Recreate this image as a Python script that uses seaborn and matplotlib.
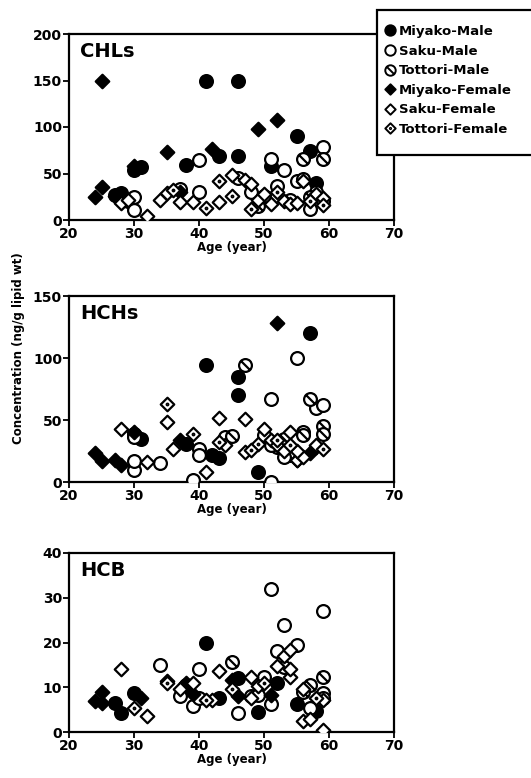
import numpy as np
import pandas as pd
import matplotlib
matplotlib.use("Agg")
import matplotlib.pyplot as plt
from matplotlib.path import Path
from matplotlib.lines import Line2D
from matplotlib.patches import Rectangle
import seaborn as sns

sns.set_theme(style="white")
plt.rcParams['font.family'] = ['DejaVu Sans']
plt.rcParams['font.weight'] = 'bold'
plt.rcParams['text.color'] = 'black'
plt.rcParams['axes.labelcolor'] = 'black'
plt.rcParams['xtick.color'] = 'black'
plt.rcParams['ytick.color'] = 'black'

groups = ["Miyako-Male", "Saku-Male", "Tottori-Male", "Miyako-Female", "Saku-Female", "Tottori-Female"]

# ---- CHLs ----
chl_age = {
    "Miyako-Male": [27, 28, 30, 31, 38, 41, 43, 46, 46, 51, 55, 57, 58],
    "Saku-Male": [29, 30, 30, 40, 40, 51, 53, 59, 50, 52, 55, 57, 58, 56, 37, 48],
    "Tottori-Male": [56, 59, 49, 54, 57, 59, 46],
    "Miyako-Female": [24, 25, 25, 30, 35, 37, 42, 49, 52, 27],
    "Saku-Female": [28, 32, 34, 35, 37, 39, 43, 45, 47, 48, 49, 50, 51, 53, 54, 55, 56, 58, 59, 29],
    "Tottori-Female": [41, 43, 45, 36, 52, 57, 59, 48],
}
chl_val = {
    "Miyako-Male": [27, 29, 54, 57, 59, 150, 69, 150, 69, 58, 90, 74, 40],
    "Saku-Male": [20, 25, 11, 65, 30, 66, 54, 79, 26, 37, 42, 12, 30, 44, 33, 30],
    "Tottori-Male": [66, 66, 15, 22, 25, 20, 45],
    "Miyako-Female": [25, 36, 150, 58, 73, 30, 76, 98, 108, 26],
    "Saku-Female": [18, 4, 22, 29, 19, 19, 19, 48, 43, 39, 22, 28, 17, 20, 17, 18, 42, 28, 24, 21],
    "Tottori-Female": [13, 42, 26, 32, 30, 20, 16, 12],
}

# ---- HCHs ----
hch_age = {
    "Miyako-Male": [41, 46, 46, 57, 49, 30, 31, 42, 43, 38],
    "Saku-Male": [55, 51, 39, 51, 58, 59, 30, 30, 30, 34, 40, 40, 44, 50, 52, 54, 56, 53],
    "Tottori-Male": [47, 57, 59, 45, 53, 56, 59, 51],
    "Miyako-Female": [52, 24, 25, 27, 28, 30, 37, 58, 57, 55],
    "Saku-Female": [28, 32, 35, 43, 47, 41, 36, 44, 47, 50, 51, 52, 54, 55, 56, 58, 55, 53],
    "Tottori-Female": [35, 39, 43, 49, 48, 52, 54, 59],
}
hch_val = {
    "Miyako-Male": [94, 85, 70, 120, 8, 39, 35, 22, 19, 31],
    "Saku-Male": [100, 67, 2, 0, 60, 62, 36, 10, 17, 15, 27, 22, 36, 38, 28, 22, 40, 20],
    "Tottori-Male": [94, 67, 45, 37, 35, 38, 39, 30],
    "Miyako-Female": [128, 23, 17, 18, 14, 40, 34, 28, 23, 18],
    "Saku-Female": [43, 16, 48, 52, 51, 8, 27, 30, 24, 43, 34, 30, 40, 18, 20, 30, 25, 25],
    "Tottori-Female": [63, 39, 32, 31, 26, 34, 30, 27],
}

# ---- HCB ----
hcb_age = {
    "Miyako-Male": [41, 27, 28, 30, 43, 46, 49, 52, 55, 58, 38],
    "Saku-Male": [51, 59, 53, 55, 52, 34, 40, 46, 39, 40, 37, 51, 50, 57, 59, 59, 48, 49],
    "Tottori-Male": [45, 59, 57, 53, 56],
    "Miyako-Female": [25, 24, 25, 31, 38, 45, 46, 51, 39],
    "Saku-Female": [28, 32, 43, 42, 37, 39, 48, 49, 48, 54, 53, 54, 54, 56, 56, 57, 59, 59, 52, 35],
    "Tottori-Female": [30, 41, 35, 45, 50, 58],
}
hcb_val = {
    "Miyako-Male": [20, 6.5, 4.2, 8.7, 7.5, 12, 4.4, 11, 6.3, 4.6, 10.5],
    "Saku-Male": [32, 27, 24, 19.5, 18, 15, 14, 4.3, 5.9, 7.6, 8, 6.3, 12.4, 5.4, 8.7, 7.6, 8, 8.3],
    "Tottori-Male": [15.6, 12.4, 10.6, 14.5, 9],
    "Miyako-Female": [9, 7, 6.5, 7.6, 11, 11.7, 8, 8.3, 8.5],
    "Saku-Female": [14, 3.5, 13.6, 7.2, 9.5, 11, 12.4, 10.2, 7.6, 12.4, 16.9, 18.4, 14, 9.5, 2.4, 2.8, 0.5, 7.2, 14.7, 11.5],
    "Tottori-Female": [5.4, 7.2, 11, 9.5, 11, 7.5],
}

panels = [
    ("CHLs", chl_age, chl_val, [0, 50, 100, 150, 200], 200),
    ("HCHs", hch_age, hch_val, [0, 50, 100, 150], 150),
    ("HCB", hcb_age, hcb_val, [0, 10, 20, 30, 40], 40),
]
x_ticks = [20, 30, 40, 50, 60, 70]

# markers
circ = Path.unit_circle()
slash = Path([(-0.72, 0.72), (0.72, -0.72)], [Path.MOVETO, Path.LINETO])
circle_slash = Path.make_compound_path(circ, slash)
diamond = Path([(0, 1), (1, 0), (0, -1), (-1, 0), (0, 1)],
               [Path.MOVETO, Path.LINETO, Path.LINETO, Path.LINETO, Path.CLOSEPOLY])
dot = Path.unit_circle()
dot = Path(dot.vertices * 0.12, dot.codes)
diamond_dot = Path.make_compound_path(diamond, dot)

styles = {
    "Miyako-Male": dict(marker="o", fc="black", s=85),
    "Saku-Male": dict(marker="o", fc="white", s=85),
    "Tottori-Male": dict(marker=circle_slash, fc="white", s=85),
    "Miyako-Female": dict(marker=diamond, fc="black", s=95),
    "Saku-Female": dict(marker=diamond, fc="white", s=95),
    "Tottori-Female": dict(marker=diamond_dot, fc="white", s=95),
}

fig = plt.figure(figsize=(5.31, 7.78), dpi=100)
W, H = 531, 778
boxes = [(34, 220), (296, 482), (553, 732)]
left, right = 69, 394

for (name, ages, vals, yt, ymax), (top, bot) in zip(panels, boxes):
    ax = fig.add_axes([left / W, 1 - bot / H, (right - left) / W, (bot - top) / H])
    for g in groups:
        st = styles[g]
        sns.scatterplot(x=ages[g], y=vals[g], ax=ax, marker=st["marker"], s=st["s"],
                        facecolor=st["fc"], edgecolor="black", linewidth=1.6, zorder=3)
    ax.set_xlim(20, 70)
    ax.set_ylim(0, ymax)
    ax.set_xticks(x_ticks)
    ax.set_yticks(yt)
    ax.tick_params(axis="both", direction="out", length=4, width=1.3, color="black",
                   labelcolor="black", labelsize=10, pad=1, bottom=True, left=True)
    for lab in ax.get_xticklabels() + ax.get_yticklabels():
        lab.set_fontweight("bold")
    for sp in ax.spines.values():
        sp.set_color("black")
        sp.set_linewidth(1.6)
    ax.set_xlabel("Age (year)", fontsize=8.5, fontweight="bold", labelpad=0, color="black")
    ax.set_ylabel("")
    ax.text(0.035, 0.955, name, transform=ax.transAxes, ha="left", va="top",
            fontsize=14, fontweight="bold", color="black")

fig.text(0.034, 1 - 348 / H, "Concentration (ng/g lipid wt)", rotation=90,
         ha="center", va="center", fontsize=8.5, fontweight="bold", color="black")

# legend box
fig.patches.append(Rectangle((377 / W, 1 - 155 / H), (540 - 377) / W, (155 - 10) / H,
                             transform=fig.transFigure, facecolor="white",
                             edgecolor="black", linewidth=1.6, zorder=9))
handles = [Line2D([], [], linestyle="none", marker=styles[g]["marker"],
                  markerfacecolor=styles[g]["fc"], markeredgecolor="black",
                  markeredgewidth=1.4, markersize=7.5) for g in groups]
leg = fig.legend(handles, groups, loc="upper left", bbox_to_anchor=(383 / W, 1 - 25 / H),
                 frameon=False, prop={"weight": "bold", "size": 9.5}, handletextpad=0.2,
                 handlelength=1.0, labelspacing=0.5, borderpad=0, borderaxespad=0)
for t in leg.get_texts():
    t.set_color("black")
leg.set_zorder(10)

fig.savefig("out.png", dpi=100, facecolor="white")
